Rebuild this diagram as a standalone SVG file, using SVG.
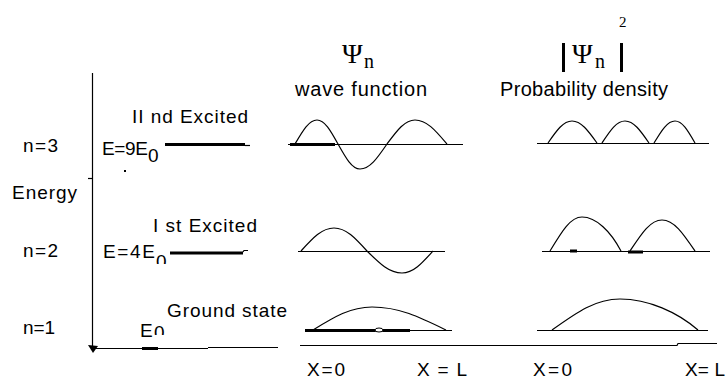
<svg xmlns="http://www.w3.org/2000/svg" width="727" height="381" viewBox="0 0 727 381">
<style>
.t{font-family:"Liberation Sans",Arial,sans-serif;font-size:19px;fill:#000}
.h{font-family:"Liberation Sans",Arial,sans-serif;font-size:20px;fill:#000}
.g{font-family:"Liberation Serif","Times New Roman",serif;fill:#000}
.ln{stroke:#000;stroke-width:1.2;fill:none}
.ax{stroke:#000;stroke-width:1.2;fill:none}
.thk{stroke:#000;stroke-width:3;fill:none}
</style>
<defs>
<clipPath id="cut2"><rect x="150" y="240" width="30" height="24"/></clipPath>
<clipPath id="cut1"><rect x="150" y="318" width="30" height="17"/></clipPath>
</defs>
<rect width="727" height="381" fill="#fff"/>

<g id="headers">
<text class="g" x="342" y="63" font-size="28">Ψ</text>
<text class="g" x="364" y="68" font-size="20">n</text>
<text class="h" x="295" y="96" textLength="132">wave function</text>
<line x1="563.5" y1="43" x2="563.5" y2="72" stroke="#000" stroke-width="3"/>
<text class="g" x="572" y="63" font-size="28">Ψ</text>
<text class="g" x="595" y="68" font-size="20">n</text>
<line x1="621.5" y1="43" x2="621.5" y2="72" stroke="#000" stroke-width="3"/>
<text class="g" x="619" y="27" font-size="15">2</text>
<text class="h" x="500" y="96" textLength="168">Probability density</text>
</g>

<g id="energy-axis">
<line class="ax" x1="92.5" y1="73" x2="92.5" y2="349" stroke-width="2"/>
<line class="ax" x1="88" y1="178.5" x2="93" y2="178.5"/>
<line class="ax" x1="93" y1="348.5" x2="208" y2="348.5"/>
<line class="ax" x1="208" y1="347.5" x2="278" y2="347.5"/>
<line class="thk" x1="142" y1="348.5" x2="158" y2="348.5"/>
<polygon points="88,345 98,346 93,353" fill="#000"/>
<text class="t" x="12" y="199" textLength="65">Energy</text>
</g>

<g id="level-n3">
<text class="t" x="23" y="152" textLength="35">n=3</text>
<text class="t" x="132" y="123" textLength="116">II nd Excited</text>
<text class="t" x="102" y="155" textLength="46">E=9E</text>
<text class="t" x="148" y="162">0</text>
<line class="thk" x1="165" y1="144.5" x2="245" y2="144.5"/>
<line class="ax" x1="245" y1="145.5" x2="250" y2="145.5"/>
<rect x="124" y="170" width="2" height="2" fill="#000"/>
</g>

<g id="level-n2">
<text class="t" x="23" y="257" textLength="35">n=2</text>
<text class="t" x="153" y="232" textLength="104">I st Excited</text>
<text class="t" x="103" y="258" textLength="52">E=4E</text>
<text class="t" x="156" y="268" clip-path="url(#cut2)">0</text>
<line class="thk" x1="170" y1="253" x2="243" y2="253"/>
<polyline class="ax" points="243,252 244,250.5 248,250.5"/>
</g>

<g id="level-n1">
<text class="t" x="23" y="334" textLength="32">n=1</text>
<text class="t" x="167" y="317" textLength="120">Ground state</text>
<text class="t" x="140" y="337">E</text>
<text class="t" x="154" y="339" clip-path="url(#cut1)">0</text>
</g>

<g id="wave-functions">
<line class="ax" x1="288" y1="144.5" x2="463" y2="144.5"/>
<line class="thk" x1="290" y1="144.5" x2="335" y2="144.5"/>
<path class="ln" d="M295,144 C303,130.3 309,120 317,120 C324.6,120 330.4,130.3 338,144 C346,158.3 352,169 360,169 C369.8,169 377.2,158.3 387,144 C397.2,130.3 404.8,120 415,120 C426.7,120 435.3,130.3 447,144"/>
<line class="ax" x1="298" y1="251.5" x2="445" y2="251.5"/>
<path class="ln" d="M301,251 C313,237.8 322,228 334,228 C346,228 355,237.8 367,251 C379.7,263.6 389.3,273 402,273 C413.3,273 421.7,263.6 433,251"/>
<line class="ax" x1="305" y1="330.5" x2="452" y2="330.5"/>
<line class="thk" x1="305" y1="330.5" x2="410" y2="330.5"/>
<ellipse cx="379" cy="330" rx="4" ry="2" fill="#fff" stroke="#000" stroke-width="1"/>
<path class="ln" d="M313,330 C334.5,316.8 350.5,307 372,307 C399,307 419,316.8 446,330"/>
</g>

<g id="probability-densities">
<line class="ax" x1="537" y1="143.5" x2="709" y2="143.5"/>
<path class="ln" d="M548,143 C556.7,130.4 563.3,121 572,121 C581.1,121 587.9,130.4 597,143 M602,143 C610.4,130.4 616.6,121 625,121 C633.7,121 640.3,130.4 649,143 M654,143 C661.6,130.4 667.4,121 675,121 C682.3,121 687.7,130.4 695,143"/>
<line class="ax" x1="542" y1="251.5" x2="710" y2="251.5"/>
<line class="thk" x1="570" y1="251" x2="577" y2="251"/>
<line class="thk" x1="628" y1="252" x2="643" y2="252"/>
<path class="ln" d="M550,251 C561.7,231.5 570.3,217 582,217 C596.2,217 610.8,231.5 621,251 M630,251 C641.7,233.3 650.3,220 662,220 C674,220 683,233.3 695,251"/>
<line class="ax" x1="537" y1="330.5" x2="708" y2="330.5"/>
<path class="ln" d="M552,330 C576.8,312.3 595.2,299 620,299 C648.4,299 677.6,312.3 698,330"/>
</g>

<g id="position-axis">
<polyline class="ax" points="300,345.5 677,345.5 678,343.5 717,343.5"/>
<text class="t" x="307" y="376" textLength="38">X=0</text>
<text class="t" x="417" y="376" textLength="50">X = L</text>
<text class="t" x="533" y="376" textLength="39">X=0</text>
<text class="t" x="685" y="376" textLength="40">X= L</text>
</g>
</svg>
